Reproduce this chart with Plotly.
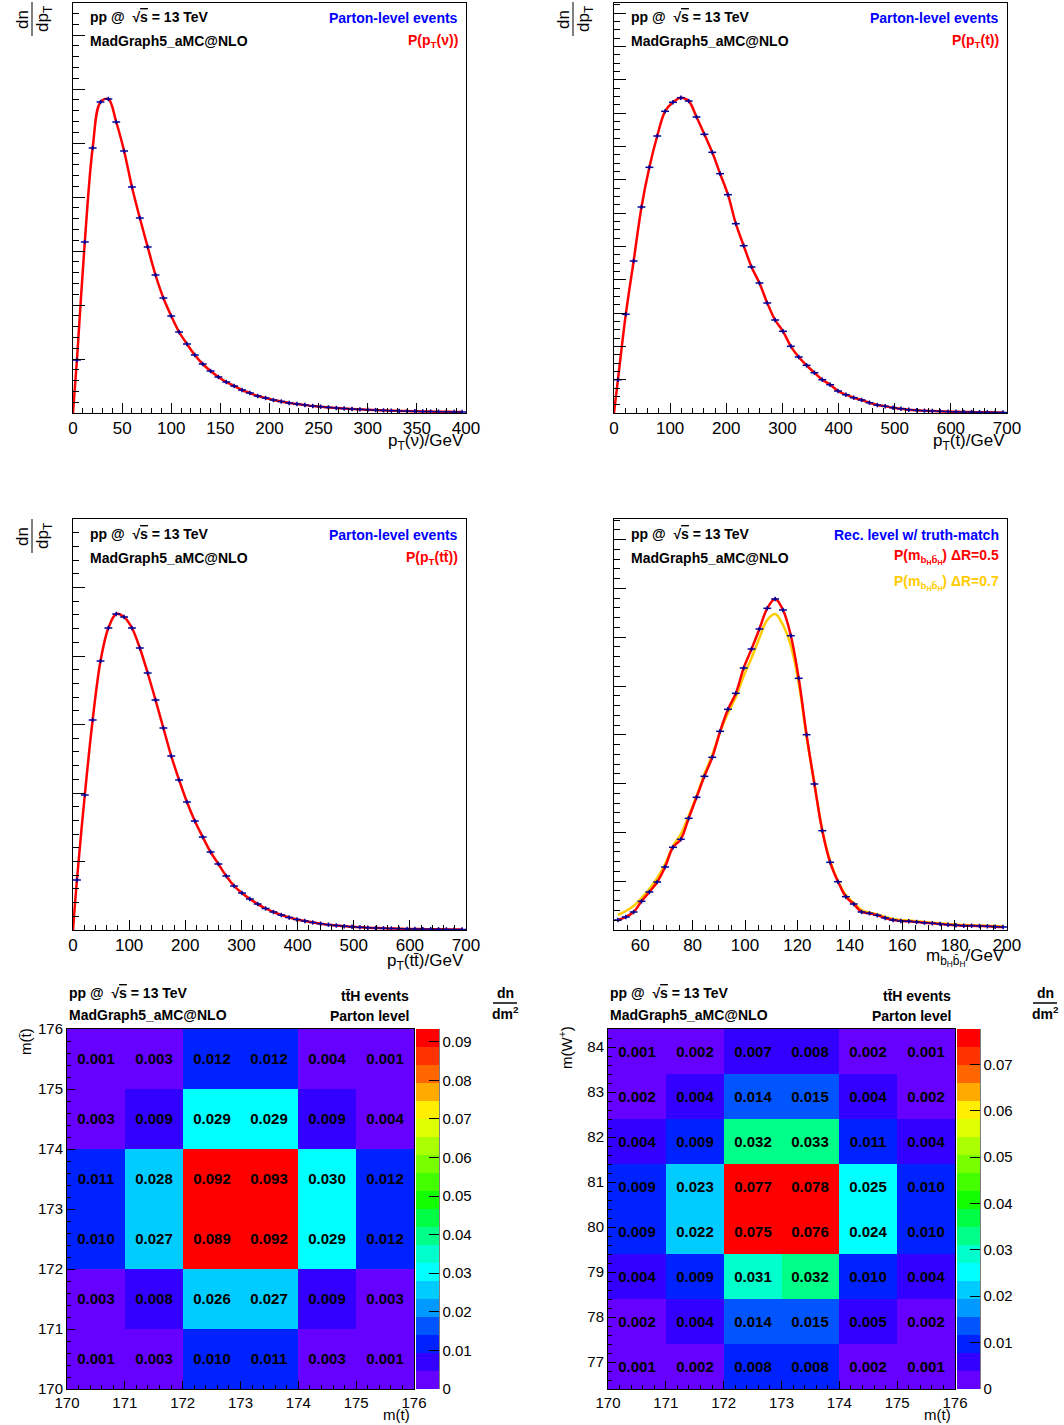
import plotly.graph_objects as go

W, H = 1064, 1425
FONT = "Liberation Sans, Arial, Helvetica, sans-serif"
NAVY = "#000099"
GOLD = "#FFCC00"

# ---------------- data (arbitrary units) ----------------
# pT(nu): 50 bins of 8 GeV in [0,400]
ptnu_edges = (0, 400, 50)
ptnu_vals = [53, 171, 265, 311, 314, 291, 262, 226, 195, 166, 138, 115, 97, 81, 69,
             58, 49, 42, 36, 31, 27, 23, 20, 17, 15, 13, 11.5, 10, 9, 8, 7, 6.3, 5.6,
             5, 4.5, 4, 3.6, 3.2, 2.9, 2.6, 2.3, 2.1, 1.9, 1.7, 1.5, 1.4, 1.3, 1.2, 1.1, 1.0]
# pT(t): 50 bins of 14 GeV in [0,700]
ptt_edges = (0, 700, 50)
ptt_vals = [33.3, 98.7, 152, 206, 245.7, 277, 301.7, 310.7, 315.3, 312,
            296, 278.7, 260.7, 239.3, 218.3, 189.3, 167.3, 146, 130, 110,
            93, 81.7, 66.7, 56, 47.7, 40.3, 33.3, 28.3, 22, 18.3,
            15.3, 13, 10.3, 8, 6.7, 5.3, 4.3, 3.3, 2.7, 2.3,
            2.0, 1.7, 1.4, 1.2, 1.0, 0.9, 0.8, 0.7, 0.6, 0.5]
# pT(ttbar): 50 bins of 14 GeV in [0,700]
pttt_edges = (0, 700, 50)
pttt_vals = [50, 135, 210, 269, 302, 316, 313, 302, 282, 257,
             230, 202, 174, 150, 128, 109, 93, 78, 66, 54,
             44, 37, 31, 26, 21.5, 18, 15, 12.5, 10.5, 9,
             7.5, 6.3, 5.3, 4.5, 3.8, 3.2, 2.7, 2.3, 2.0, 1.7,
             1.5, 1.3, 1.1, 1.0, 0.9, 0.8, 0.7, 0.6, 0.5, 0.5]
# m(bH bbarH): 50 bins of 3 GeV in [50,200]
mbb_edges = (50, 200, 50)
mbb_vals = [10, 13, 18, 28.7, 38, 48, 63, 82.7, 90.7, 111.7,
            132.7, 153.7, 172.7, 198.7, 220.7, 236.7, 262, 281, 301, 321.7,
            331, 320, 294.3, 251.7, 195.3, 146, 99.3, 67.7, 48.3, 33.3,
            26, 18, 16.7, 14.7, 12, 10, 9, 8.7, 8, 7.3,
            6.7, 6, 5.3, 4.7, 4.3, 4.3, 4, 3.7, 3.3, 3]
mbb07_vals = [15, 19, 24, 32, 41, 52, 66, 84, 96, 114,
              134, 156, 175, 198, 217, 233, 254, 272, 292, 310,
              316, 305, 284, 247, 193, 146, 100, 69, 49, 35,
              27, 20, 17.5, 15.5, 13, 11, 10, 9.5, 8.8, 8,
              7.3, 6.7, 6, 5.5, 5, 4.8, 4.5, 4.2, 3.9, 3.6]

# 2D: m(t) vs m(tbar), bins of 1 GeV in [170,176]
mt_edges = [170, 171, 172, 173, 174, 175, 176]
z_tt = [  # rows from m(tbar)=170-171 (bottom) to 175-176 (top)
    [0.001, 0.003, 0.010, 0.011, 0.003, 0.001],
    [0.003, 0.008, 0.026, 0.027, 0.009, 0.003],
    [0.010, 0.027, 0.089, 0.092, 0.029, 0.012],
    [0.011, 0.0278, 0.092, 0.093, 0.030, 0.012],
    [0.003, 0.009, 0.029, 0.029, 0.009, 0.004],
    [0.001, 0.003, 0.012, 0.012, 0.004, 0.001],
]
# 2D: m(t) vs m(W+), W bins of 1 GeV in [76.4,84.4]
mw_edges = [76.4, 77.4, 78.4, 79.4, 80.4, 81.4, 82.4, 83.4, 84.4]
z_tw = [
    [0.001, 0.002, 0.008, 0.008, 0.002, 0.001],
    [0.002, 0.004, 0.014, 0.015, 0.005, 0.002],
    [0.004, 0.009, 0.031, 0.032, 0.010, 0.004],
    [0.009, 0.022, 0.075, 0.076, 0.024, 0.010],
    [0.009, 0.023, 0.077, 0.078, 0.025, 0.010],
    [0.004, 0.009, 0.032, 0.033, 0.011, 0.004],
    [0.002, 0.004, 0.014, 0.015, 0.004, 0.002],
    [0.001, 0.002, 0.007, 0.0077, 0.002, 0.001],
]
zmax_tt = 0.0933
zmax_tw = 0.0776

palette = ['#6600FF', '#3300FF', '#0022FF', '#0055FF', '#0099FF', '#00CCFF', '#00FFFF',
           '#00FFCC', '#00FF88', '#00FF44', '#11FF00', '#44FF00', '#77FF00', '#AAFF00',
           '#DDFF00', '#FFEE00', '#FFAA00', '#FF6600', '#FF3300', '#FF0000']


def centers(edges):
    lo, hi, n = edges
    w = (hi - lo) / n
    return [lo + w * (i + 0.5) for i in range(n)], w


def mids(e):
    return [(a + b) / 2 for a, b in zip(e[:-1], e[1:])]


def xd(a, b):
    return [a / W, b / W]


def yd(top, bottom):
    return [1 - bottom / H, 1 - top / H]


colorscale = []
for i, c in enumerate(palette):
    colorscale.append([i / 20, c])
    colorscale.append([(i + 1) / 20, c])

fig = go.Figure()


def add_hist(edges, vals, xa, ya, start_zero=True, fit=True):
    xc, w = centers(edges)
    if fit:
        fx = ([edges[0]] + xc) if start_zero else xc
        fy = ([0] + vals) if start_zero else vals
        fig.add_trace(go.Scatter(x=fx, y=fy, mode='lines', xaxis=xa, yaxis=ya,
                                 line=dict(color='#FF0000', width=2.5, shape='spline', smoothing=1.0),
                                 showlegend=False, hoverinfo='skip'))
    fig.add_trace(go.Scatter(x=xc, y=vals, mode='markers', xaxis=xa, yaxis=ya,
                             marker=dict(size=2, color=NAVY),
                             error_x=dict(type='constant', value=w / 2, width=0, thickness=1.5, color=NAVY),
                             error_y=dict(type='constant', value=2.2, width=0, thickness=1.5, color=NAVY),
                             showlegend=False))


add_hist(ptnu_edges, ptnu_vals, 'x', 'y')
add_hist(ptt_edges, ptt_vals, 'x2', 'y2')
add_hist(pttt_edges, pttt_vals, 'x3', 'y3')
# m_bb panel: yellow curve, red curve, data
xc_mbb, w_mbb = centers(mbb_edges)
fig.add_trace(go.Scatter(x=xc_mbb, y=mbb07_vals, mode='lines', xaxis='x4', yaxis='y4',
                         line=dict(color=GOLD, width=2.5, shape='spline'), showlegend=False))
add_hist(mbb_edges, mbb_vals, 'x4', 'y4', start_zero=False)


def cbar(xleft):
    return dict(x=xleft / W, xanchor='left', y=1 - 1209 / H, yanchor='middle',
                len=360, lenmode='pixels', thickness=23, thicknessmode='pixels',
                xpad=0, ypad=0, outlinewidth=0, ticks='inside', ticklen=10,
                tickcolor='black', tick0=0, dtick=0.01,
                tickfont=dict(family=FONT, size=15, color='black'))


# heatmaps
fig.add_trace(go.Heatmap(x=mids(mt_edges), y=mids(mt_edges), z=z_tt, xaxis='x5', yaxis='y5',
                         zmin=0, zmax=zmax_tt, colorscale=colorscale,
                         texttemplate='<b>%{z:.3f}</b>',
                         textfont=dict(family=FONT, size=15, color='black'),
                         colorbar=cbar(416)))
fig.add_trace(go.Heatmap(x=mids(mt_edges), y=mids(mw_edges), z=z_tw, xaxis='x6', yaxis='y6',
                         zmin=0, zmax=zmax_tw, colorscale=colorscale,
                         texttemplate='<b>%{z:.3f}</b>',
                         textfont=dict(family=FONT, size=15, color='black'),
                         colorbar=cbar(957)))


def axis(domain, rng, anchor, dtick, minor, labels=True, size=17, tlen=10, mlen=5, tick0=0):
    return dict(domain=domain, range=rng, anchor=anchor, showgrid=False, zeroline=False,
                showline=True, mirror=True, linecolor='black', linewidth=1, automargin=False,
                ticks='inside', ticklen=tlen, tickwidth=1, tickcolor='black',
                tick0=tick0, dtick=dtick, showticklabels=labels,
                tickfont=dict(family=FONT, size=size, color='black'),
                minor=dict(dtick=minor, ticks='inside', ticklen=mlen, tickcolor='black', tick0=tick0, showgrid=False))


layout = dict(
    width=W, height=H, margin=dict(l=0, r=0, t=0, b=0, pad=0, autoexpand=False),
    paper_bgcolor='white', plot_bgcolor='white', showlegend=False,
    xaxis=axis(xd(73, 466), [0, 400], 'y', 50, 10),
    yaxis=axis(yd(3, 413), [0, 410], 'x', 54, 10.8, labels=False, tlen=12, mlen=6),
    xaxis2=axis(xd(614, 1007), [0, 700], 'y2', 100, 20),
    yaxis2=axis(yd(3, 413), [0, 410], 'x2', 33.333, 8.3333, labels=False, tlen=12, mlen=6),
    xaxis3=axis(xd(73, 466), [0, 700], 'y3', 100, 20),
    yaxis3=axis(yd(519, 930), [0, 411], 'x3', 68.5, 13.7, labels=False, tlen=12, mlen=6),
    xaxis4=axis(xd(614, 1007), [50, 200], 'y4', 20, 5),
    yaxis4=axis(yd(519, 930), [0, 411], 'x4', 48.8, 9.76, labels=False, tlen=12, mlen=6),
    xaxis5=axis(xd(67, 414), [170, 176], 'y5', 1, 0.2, size=15, tlen=8, mlen=4),
    yaxis5=axis(yd(1029, 1389), [170, 176], 'x5', 1, 0.2, size=15, tlen=8, mlen=4),
    xaxis6=axis(xd(608, 955), [170, 176], 'y6', 1, 0.2, size=15, tlen=8, mlen=4),
    yaxis6=axis(yd(1029, 1389), [76.4, 84.4], 'x6', 1, 0.2, size=15, tlen=8, mlen=4),
)

ann = []


def A(text, x, y, xa='left', ya='middle', size=14, color='black', angle=0):
    ann.append(dict(text=text, x=x / W, y=1 - y / H, xref='paper', yref='paper', xanchor=xa,
                    yanchor=ya, showarrow=False, textangle=angle,
                    font=dict(family=FONT, size=size, color=color)))


SQRT = "√<span style='text-decoration:overline'>s</span>"
shapes = []


def line(x0, y0, x1, y1, w=1):
    shapes.append(dict(type='line', xref='paper', yref='paper', x0=x0 / W, y0=1 - y0 / H,
                       x1=x1 / W, y1=1 - y1 / H, line=dict(color='black', width=w)))


# 1D panels headers
for (lx, rx, ty, tag) in [(88, 460, 0, 'ν'), (629, 1001, 0, 't'), (88, 460, 517, 'tt̄')]:
    A("<b>pp @  " + SQRT + " = 13 TeV</b>", lx, 17 + ty)
    A("<b>MadGraph5_aMC@NLO</b>", lx, 41 + ty)
    A("<b>Parton-level events</b>", rx, 18 + ty, xa='right', color='#0000FF')
    A("<b>P(p<sub>T</sub>(" + tag + "))</b>", rx, 41 + ty, xa='right', color='#FF0000')

A("<b>pp @  " + SQRT + " = 13 TeV</b>", 629, 534)
A("<b>MadGraph5_aMC@NLO</b>", 629, 558)
A("<b>Rec. level w/ truth-match</b>", 1001, 535, xa='right', color='#0000FF')
MBB = "m<sub>b<sub>H</sub>b̄<sub>H</sub></sub>"
A("<b>P(" + MBB + ") ΔR=0.5</b>", 1001, 556, xa='right', color='#FF0000')
A("<b>P(" + MBB + ") ΔR=0.7</b>", 1001, 582, xa='right', color=GOLD)

# dn/dpT labels
for (x0, y0) in [(0, 0), (541, 0), (0, 517)]:
    A("dn", x0 + 22, y0 + 20, xa='center', ya='middle', size=17, angle=-90)
    A("dp<sub>T</sub>", x0 + 44, y0 + 19, xa='center', ya='middle', size=17, angle=-90)
    line(x0 + 32, y0 + 2, x0 + 32, y0 + 36)

# x axis titles
A("p<sub>T</sub>(ν)/GeV", 466, 429, xa='right', ya='top', size=17)
A("p<sub>T</sub>(t)/GeV", 1007, 429, xa='right', ya='top', size=17)
A("p<sub>T</sub>(tt̄)/GeV", 466, 949, xa='right', ya='top', size=17)
A(MBB + "/GeV", 1007, 944, xa='right', ya='top', size=17)

# heatmap headers
for (lx, rx, fx) in [(67, 411, 505), (608, 953, 1045)]:
    A("<b>pp @  " + SQRT + " = 13 TeV</b>", lx, 993)
    A("<b>MadGraph5_aMC@NLO</b>", lx, 1015)
    A("<b>tt̄H events</b>", rx, 996, xa='right')
    A("<b>Parton level</b>", rx, 1016, xa='right')
    A("<b>dn</b>", fx, 993, xa='center')
    A("<b>dm<sup>2</sup></b>", fx, 1013, xa='center')
    line(fx - 12, 1003, fx + 12, 1003, w=1.5)

A("m(t̄)", 25, 1042, xa='center', ya='middle', size=15, angle=-90)
A("m(W<sup>+</sup>)", 565, 1048, xa='center', ya='middle', size=15, angle=-90)
A("m(t)", 412, 1404, xa='right', ya='top', size=15)
A("m(t)", 953, 1404, xa='right', ya='top', size=15)

# colorbar axis lines
line(439, 1029, 439, 1389)
line(980, 1029, 980, 1389)

layout['annotations'] = ann
layout['shapes'] = shapes
fig.update_layout(**layout)
fig.write_html("out.html", config={'displayModeBar': False},
               post_script="document.body.style.margin='0px';document.body.style.overflow='hidden';")
